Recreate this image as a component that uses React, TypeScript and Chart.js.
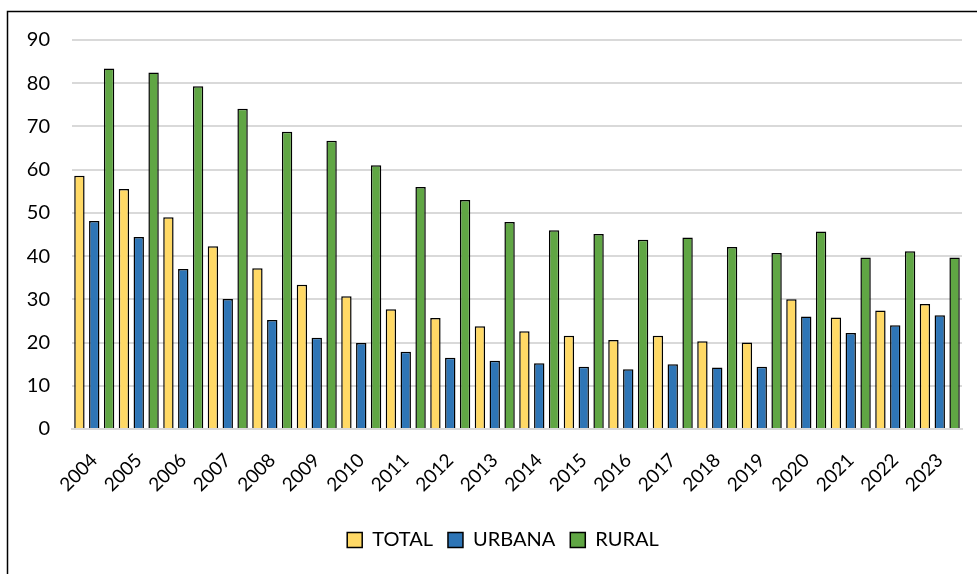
import React, { useEffect, useRef } from "react";
import { Chart, registerables } from "chart.js";

Chart.register(...registerables);

const years = [
  "2004", "2005", "2006", "2007", "2008", "2009", "2010", "2011", "2012", "2013",
  "2014", "2015", "2016", "2017", "2018", "2019", "2020", "2021", "2022", "2023",
];
const total = [58.6, 55.5, 49.0, 42.3, 37.2, 33.4, 30.7, 27.7, 25.7, 23.8, 22.6, 21.6, 20.6, 21.6, 20.3, 20.0, 30.0, 25.8, 27.4, 28.9];
const urbana = [48.1, 44.4, 37.0, 30.1, 25.2, 21.1, 19.9, 17.9, 16.5, 15.8, 15.2, 14.4, 13.8, 15.0, 14.2, 14.4, 26.0, 22.2, 24.0, 26.3];
const rural = [83.4, 82.5, 79.3, 74.1, 68.8, 66.7, 61.0, 56.0, 53.0, 47.9, 46.0, 45.1, 43.8, 44.3, 42.1, 40.7, 45.7, 39.7, 41.1, 39.7];
const yMin = 0;
const yMax = 90;
const yStep = 10;

const FONT = "Lato, 'Open Sans', sans-serif";

export default function App() {
  const ref = useRef<HTMLCanvasElement>(null);

  useEffect(() => {
    if (!ref.current) return;
    const frame = {
      id: "frame",
      beforeDraw(c: any) {
        const ctx = c.ctx;
        ctx.save();
        ctx.fillStyle = "#ffffff";
        ctx.fillRect(0, 0, c.width, c.height);
        ctx.strokeStyle = "#000000";
        ctx.lineWidth = 1.5;
        ctx.beginPath();
        ctx.moveTo(7.5, c.height + 2);
        ctx.lineTo(7.5, 11.5);
        ctx.lineTo(c.width + 2, 11.5);
        ctx.stroke();
        ctx.restore();
      },
    };
    const shiftLegend = {
      id: "shiftLegend",
      afterLayout(c: any) {
        const lg = c.legend;
        if (lg) {
          const dx = 503 - (lg.left + lg.right) / 2;
          lg.left += dx;
          lg.right += dx;
          lg.top += 4;
          lg.bottom += 4;
        }
      },
    };

    const mk = (label: string, data: number[], color: string) => ({
      label,
      data,
      backgroundColor: color,
      borderColor: "#000000",
      borderWidth: 1.5,
      borderSkipped: "start" as const,
      categoryPercentage: 1.0,
      barPercentage: 0.7,
    });

    const chart = new Chart(ref.current, {
      type: "bar",
      data: {
        labels: years,
        datasets: [
          mk("TOTAL", total, "#FFD966"),
          mk("URBANA", urbana, "#2E75B6"),
          mk("RURAL", rural, "#60A644"),
        ],
      },
      options: {
        responsive: false,
        animation: false,
        layout: { padding: { left: 8, right: 15, top: 40, bottom: 18 } },
        plugins: {
          legend: {
            position: "bottom",
            labels: {
              boxWidth: 15,
              boxHeight: 15,
              padding: 15,
              color: "#000",
              font: { family: FONT, size: 20 },
            },
          },
          tooltip: { enabled: false },
        },
        scales: {
          x: {
            grid: { display: false },
            border: { color: "#d9d9d9", width: 2 },
            ticks: {
              minRotation: 45,
              maxRotation: 45,
              color: "#000",
              padding: 12,
              font: { family: FONT, size: 19 },
            },
            afterFit: (s: any) => {
              s.height = 82;
              s.paddingLeft = 0;
              s.paddingRight = 0;
            },
          },
          y: {
            min: yMin,
            max: yMax,
            ticks: {
              stepSize: yStep,
              padding: 22,
              color: "#000",
              font: { family: FONT, size: 20 },
            },
            grid: { color: "#d9d9d9", lineWidth: 2, drawTicks: false },
            border: { display: false },
            afterFit: (s: any) => {
              s.width = 64;
            },
          },
        },
      },
      plugins: [frame, shiftLegend],
    });
    return () => chart.destroy();
  }, []);

  return (
    <div style={{ position: "fixed", left: 0, top: 0, width: 977, height: 574, background: "#fff" }}>
      <canvas ref={ref} width={977} height={574} style={{ display: "block" }} />
    </div>
  );
}
